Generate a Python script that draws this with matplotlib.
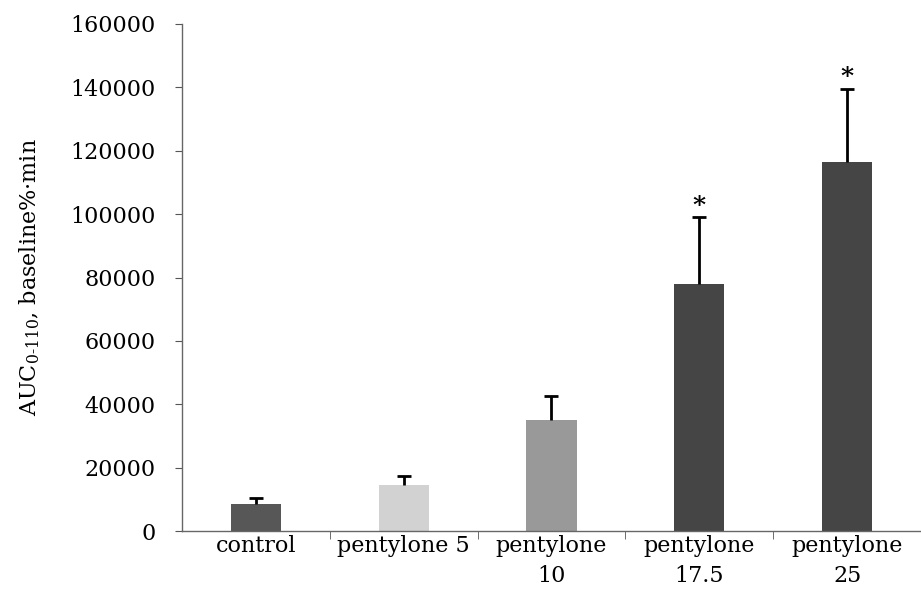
import matplotlib
matplotlib.use("Agg")
import matplotlib.pyplot as plt
import numpy as np

categories = ["control", "pentylone 5", "pentylone\n10", "pentylone\n17.5", "pentylone\n25"]
means = [8500, 14500, 35000, 78000, 116500]
sems = [2000, 3000, 7500, 21000, 23000]
significant = [False, False, False, True, True]
bar_colors = ["#575757", "#d2d2d2", "#999999", "#454545", "#454545"]
y_ticks = [0, 20000, 40000, 60000, 80000, 100000, 120000, 140000, 160000]

plt.rcParams["font.family"] = ["DejaVu Serif"]
plt.rcParams["mathtext.fontset"] = "dejavuserif"

fig = plt.figure(figsize=(9.21, 6.09), dpi=100)
ax = fig.add_axes([0.1976, 0.128, 0.8024, 0.8326])

x = np.arange(len(categories))
ax.bar(x, means, width=0.34, color=bar_colors, edgecolor="none", zorder=2)

# upward-only error bars
_, caps, _ = ax.errorbar(x, means, yerr=[np.zeros(len(sems)), sems], fmt="none",
                         ecolor="black", elinewidth=2, capsize=5, capthick=2, zorder=3)
caps[0].set_visible(False)

for xi, m, s, sig in zip(x, means, sems, significant):
    if sig:
        ax.text(xi, m + s + 1500, "*", ha="center", va="baseline",
                fontsize=18, fontweight="bold")

ax.set_xlim(-0.5, len(categories) - 0.5)
ax.set_ylim(0, 160000)
ax.set_yticks(y_ticks)
ax.set_yticklabels([str(v) for v in y_ticks], fontsize=16)

ax.set_xticks(x)
ax.set_xticklabels(categories, fontsize=16, linespacing=1.45)
ax.tick_params(axis="x", length=0, pad=3)
ax.set_xticks(np.arange(0.5, len(categories) - 0.5, 1.0), minor=True)
ax.tick_params(axis="x", which="minor", length=6, direction="out", color="#555555")
ax.tick_params(axis="y", length=5, direction="out", color="#555555", pad=14)

for side in ("top", "right"):
    ax.spines[side].set_visible(False)
for side in ("left", "bottom"):
    ax.spines[side].set_color("#666666")
    ax.spines[side].set_linewidth(1.0)

ax.set_ylabel("AUC$_{\\mathrm{0\\text{-}110}}$, baseline%·min", fontsize=16, labelpad=20)

fig.savefig("out.png", dpi=100)
